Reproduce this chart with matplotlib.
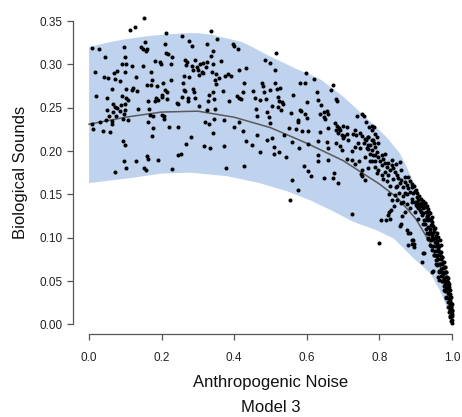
import numpy as np
import matplotlib
matplotlib.use("Agg")
import matplotlib.pyplot as plt

plt.rcParams['font.family'] = ['Liberation Sans', 'DejaVu Sans']

# observed points (anthropogenic noise, biological sounds)
points = [
    (0.152, 0.353), (0.127, 0.343), (0.114, 0.340), (0.212, 0.336), (0.256, 0.333),
    (0.007, 0.319), (0.028, 0.318), (0.097, 0.320), (0.153, 0.326), (0.143, 0.320),
    (0.149, 0.318), (0.159, 0.318), (0.156, 0.316), (0.210, 0.323), (0.213, 0.313),
    (0.218, 0.312), (0.229, 0.309), (0.044, 0.308), (0.099, 0.308), (0.182, 0.304),
    (0.195, 0.303), (0.199, 0.301), (0.090, 0.300), (0.101, 0.301), (0.117, 0.298),
    (0.150, 0.298), (0.227, 0.300), (0.017, 0.291), (0.068, 0.290), (0.077, 0.292),
    (0.099, 0.291), (0.171, 0.291), (0.130, 0.286), (0.042, 0.285), (0.051, 0.284),
    (0.071, 0.283), (0.085, 0.281), (0.173, 0.282), (0.204, 0.278), (0.227, 0.282),
    (0.262, 0.287), (0.160, 0.276), (0.170, 0.276), (0.064, 0.272), (0.101, 0.272),
    (0.122, 0.273), (0.118, 0.270), (0.133, 0.269), (0.188, 0.275), (0.208, 0.271),
    (0.216, 0.268), (0.202, 0.265), (0.262, 0.271), (0.020, 0.264), (0.050, 0.261),
    (0.090, 0.264), (0.103, 0.261), (0.108, 0.259), (0.163, 0.258), (0.184, 0.261),
    (0.189, 0.259), (0.181, 0.258), (0.200, 0.262), (0.215, 0.260), (0.242, 0.256),
    (0.244, 0.254), (0.067, 0.254), (0.088, 0.253), (0.076, 0.250), (0.071, 0.251),
    (0.099, 0.254), (0.134, 0.249), (0.165, 0.249), (0.050, 0.247), (0.066, 0.245),
    (0.086, 0.246), (0.099, 0.247), (0.056, 0.240), (0.074, 0.241), (0.097, 0.243),
    (0.168, 0.242), (0.177, 0.241), (0.202, 0.242), (0.207, 0.241), (0.046, 0.236),
    (0.062, 0.235), (0.093, 0.237), (0.106, 0.236), (0.207, 0.237), (0.009, 0.231),
    (0.030, 0.233), (0.062, 0.231), (0.163, 0.233), (0.220, 0.228), (0.246, 0.228),
    (0.177, 0.227), (0.012, 0.225), (0.039, 0.223), (0.059, 0.222), (0.174, 0.217),
    (0.094, 0.212), (0.100, 0.207), (0.160, 0.194), (0.162, 0.191), (0.189, 0.190),
    (0.245, 0.195), (0.253, 0.197), (0.097, 0.189), (0.129, 0.188), (0.103, 0.180),
    (0.071, 0.176), (0.151, 0.180), (0.157, 0.178), (0.229, 0.179),
    (0.335, 0.338), (0.353, 0.329), (0.276, 0.327), (0.284, 0.321), (0.326, 0.324),
    (0.396, 0.323), (0.400, 0.321), (0.411, 0.318), (0.341, 0.316), (0.336, 0.310),
    (0.515, 0.313), (0.485, 0.305), (0.499, 0.302), (0.265, 0.305), (0.271, 0.303),
    (0.292, 0.305), (0.266, 0.299), (0.324, 0.303), (0.363, 0.304), (0.341, 0.300),
    (0.283, 0.298), (0.298, 0.297), (0.306, 0.300), (0.315, 0.302), (0.287, 0.294),
    (0.301, 0.293), (0.310, 0.291), (0.313, 0.290), (0.303, 0.288), (0.321, 0.297),
    (0.432, 0.296), (0.413, 0.293), (0.338, 0.291), (0.350, 0.289), (0.375, 0.287),
    (0.382, 0.289), (0.391, 0.287), (0.358, 0.284), (0.275, 0.286), (0.347, 0.282),
    (0.350, 0.277), (0.258, 0.279), (0.428, 0.279), (0.477, 0.278), (0.480, 0.275),
    (0.519, 0.272), (0.526, 0.273), (0.499, 0.271), (0.264, 0.269), (0.286, 0.272),
    (0.289, 0.268), (0.342, 0.268), (0.368, 0.269), (0.425, 0.268), (0.451, 0.269),
    (0.483, 0.268), (0.256, 0.262), (0.273, 0.261), (0.293, 0.261), (0.273, 0.258),
    (0.330, 0.265), (0.409, 0.263), (0.414, 0.261), (0.419, 0.260), (0.458, 0.261),
    (0.471, 0.259), (0.488, 0.260), (0.522, 0.262), (0.523, 0.258), (0.387, 0.258),
    (0.328, 0.258), (0.345, 0.260), (0.302, 0.252), (0.504, 0.252), (0.522, 0.251),
    (0.347, 0.249), (0.326, 0.247), (0.461, 0.248), (0.491, 0.245), (0.464, 0.240),
    (0.497, 0.239), (0.344, 0.237), (0.373, 0.236), (0.320, 0.234), (0.330, 0.231),
    (0.414, 0.234), (0.399, 0.228), (0.499, 0.232), (0.342, 0.221), (0.423, 0.223),
    (0.462, 0.219), (0.281, 0.216), (0.432, 0.212), (0.490, 0.213), (0.504, 0.215),
    (0.267, 0.208), (0.317, 0.206), (0.333, 0.203), (0.373, 0.206), (0.448, 0.207),
    (0.511, 0.205), (0.471, 0.199), (0.523, 0.199), (0.377, 0.181), (0.427, 0.183),
    (0.512, 0.293), (0.598, 0.290), (0.582, 0.278), (0.595, 0.278), (0.621, 0.283),
    (0.672, 0.276), (0.667, 0.271), (0.512, 0.278), (0.563, 0.265), (0.627, 0.268),
    (0.632, 0.259), (0.638, 0.253), (0.601, 0.257), (0.680, 0.260), (0.683, 0.258),
    (0.531, 0.257), (0.534, 0.254), (0.528, 0.247), (0.557, 0.244), (0.581, 0.247),
    (0.583, 0.246), (0.595, 0.243), (0.637, 0.243), (0.648, 0.245), (0.656, 0.246),
    (0.659, 0.243), (0.648, 0.239), (0.650, 0.237), (0.600, 0.238), (0.575, 0.236),
    (0.577, 0.233), (0.739, 0.241), (0.753, 0.243), (0.758, 0.240),
    (0.678, 0.232), (0.682, 0.229), (0.689, 0.227), (0.692, 0.224), (0.701, 0.229),
    (0.710, 0.228), (0.680, 0.224), (0.687, 0.221), (0.696, 0.219), (0.703, 0.217),
    (0.710, 0.220), (0.701, 0.215), (0.713, 0.213), (0.733, 0.224), (0.728, 0.220),
    (0.737, 0.218), (0.747, 0.221), (0.753, 0.217), (0.760, 0.214), (0.764, 0.213),
    (0.769, 0.216), (0.779, 0.213), (0.784, 0.209), (0.774, 0.207), (0.758, 0.209),
    (0.740, 0.209), (0.733, 0.205), (0.747, 0.203), (0.768, 0.202), (0.779, 0.201),
    (0.725, 0.200), (0.788, 0.195), (0.760, 0.193), (0.744, 0.189), (0.775, 0.189),
    (0.788, 0.182), (0.769, 0.180), (0.753, 0.178), (0.749, 0.174), (0.733, 0.185),
    (0.724, 0.190), (0.710, 0.191),
    (0.604, 0.223), (0.636, 0.222), (0.659, 0.227), (0.552, 0.227), (0.569, 0.225),
    (0.586, 0.223), (0.538, 0.219), (0.560, 0.211), (0.579, 0.203), (0.602, 0.208),
    (0.632, 0.212), (0.657, 0.211), (0.659, 0.203), (0.680, 0.209), (0.692, 0.206),
    (0.696, 0.201), (0.542, 0.193), (0.632, 0.195), (0.630, 0.189), (0.659, 0.190),
    (0.591, 0.183), (0.604, 0.177), (0.613, 0.171), (0.648, 0.169), (0.673, 0.169),
    (0.676, 0.175), (0.687, 0.163), (0.753, 0.171), (0.760, 0.166), (0.560, 0.166),
    (0.577, 0.155), (0.554, 0.144), (0.510, 0.197),
    (0.781, 0.229), (0.785, 0.228), (0.769, 0.207), (0.767, 0.203), (0.788, 0.205),
    (0.793, 0.199), (0.774, 0.197), (0.783, 0.195), (0.797, 0.193), (0.788, 0.189),
    (0.779, 0.188), (0.802, 0.189), (0.811, 0.191), (0.815, 0.186), (0.806, 0.184),
    (0.820, 0.182), (0.825, 0.186), (0.834, 0.184), (0.829, 0.178), (0.838, 0.180),
    (0.843, 0.176), (0.815, 0.176), (0.797, 0.178), (0.793, 0.175), (0.806, 0.172),
    (0.825, 0.172), (0.848, 0.172), (0.852, 0.169), (0.838, 0.168), (0.861, 0.166),
    (0.857, 0.163), (0.871, 0.164), (0.866, 0.159), (0.875, 0.161), (0.880, 0.157),
    (0.889, 0.158), (0.884, 0.153), (0.893, 0.151), (0.898, 0.154), (0.903, 0.147),
    (0.907, 0.143), (0.898, 0.141), (0.912, 0.139), (0.917, 0.136), (0.921, 0.139),
    (0.926, 0.135), (0.907, 0.134), (0.930, 0.130), (0.921, 0.128), (0.935, 0.126),
    (0.939, 0.122), (0.944, 0.118), (0.926, 0.116), (0.949, 0.114), (0.953, 0.111),
    (0.939, 0.107), (0.958, 0.105), (0.962, 0.101), (0.949, 0.100), (0.967, 0.097),
    (0.958, 0.094), (0.970, 0.091), (0.962, 0.089), (0.799, 0.094), (0.823, 0.126),
    (0.829, 0.122), (0.817, 0.120), (0.832, 0.132), (0.841, 0.136), (0.848, 0.143),
    (0.836, 0.144), (0.826, 0.150), (0.843, 0.149), (0.875, 0.109), (0.884, 0.105),
    (0.880, 0.092), (0.896, 0.089), (0.859, 0.116), (0.762, 0.234), (0.771, 0.228),
    (0.779, 0.224), (0.788, 0.220), (0.769, 0.216), (0.783, 0.213), (0.797, 0.209),
    (0.793, 0.216), (0.815, 0.197), (0.806, 0.195), (0.857, 0.187),
    (0.866, 0.141), (0.875, 0.139), (0.889, 0.141), (0.903, 0.137), (0.884, 0.134),
    (0.898, 0.130), (0.912, 0.132), (0.917, 0.126), (0.907, 0.122), (0.926, 0.120),
    (0.930, 0.124), (0.921, 0.116), (0.935, 0.112), (0.944, 0.103), (0.949, 0.099),
    (0.953, 0.095), (0.958, 0.091), (0.962, 0.087), (0.967, 0.084), (0.972, 0.078),
    (0.976, 0.072), (0.981, 0.066), (0.985, 0.060), (0.987, 0.055), (0.990, 0.049),
    (0.993, 0.043), (0.994, 0.035), (0.996, 0.028), (0.997, 0.020), (0.999, 0.012),
    (1.000, 0.005), (0.857, 0.114), (0.891, 0.097), (0.895, 0.093), (0.889, 0.093),
    (0.921, 0.082), (0.917, 0.072), (0.949, 0.062), (0.944, 0.060), (0.962, 0.055),
    (0.965, 0.051), (0.726, 0.127), (0.804, 0.120), (0.827, 0.130), (0.878, 0.105),
    (0.893, 0.097), (0.923, 0.082),
    (0.930, 0.105), (0.935, 0.098), (0.940, 0.092), (0.946, 0.086), (0.951, 0.080),
    (0.956, 0.074), (0.960, 0.068), (0.965, 0.062), (0.970, 0.056), (0.974, 0.050),
    (0.978, 0.044), (0.982, 0.038), (0.985, 0.032), (0.988, 0.026), (0.991, 0.020),
    (0.993, 0.014), (0.995, 0.009), (0.997, 0.004),
    (0.945, 0.115), (0.950, 0.108), (0.955, 0.102), (0.960, 0.096), (0.965, 0.090),
    (0.970, 0.084), (0.974, 0.078), (0.978, 0.072), (0.982, 0.066), (0.985, 0.060),
    (0.989, 0.054), (0.992, 0.047), (0.995, 0.040), (0.997, 0.032), (0.999, 0.024),
    (1.000, 0.016), (1.000, 0.010), (1.000, 0.002),
    (0.938, 0.104), (0.943, 0.097), (0.948, 0.090), (0.953, 0.085), (0.958, 0.079),
    (0.962, 0.075), (0.966, 0.070), (0.970, 0.064), (0.975, 0.058), (0.978, 0.053),
    (0.982, 0.047), (0.985, 0.042), (0.988, 0.036), (0.991, 0.030), (0.994, 0.024),
    (0.996, 0.017),
    (0.880, 0.170), (0.885, 0.165), (0.890, 0.162), (0.895, 0.160), (0.900, 0.155),
    (0.905, 0.152), (0.910, 0.148), (0.915, 0.145), (0.920, 0.142), (0.925, 0.140),
    (0.930, 0.136), (0.935, 0.133), (0.940, 0.128), (0.945, 0.124),
    (0.905, 0.140), (0.915, 0.140), (0.925, 0.140), (0.915, 0.130), (0.928, 0.130),
    (0.938, 0.130), (0.922, 0.120), (0.933, 0.120), (0.943, 0.120), (0.928, 0.110),
    (0.940, 0.110), (0.950, 0.110), (0.935, 0.100), (0.946, 0.100), (0.957, 0.100),
    (0.943, 0.090), (0.952, 0.090), (0.963, 0.090), (0.950, 0.080), (0.960, 0.080),
    (0.968, 0.080), (0.957, 0.070), (0.966, 0.070), (0.974, 0.070), (0.965, 0.060),
    (0.972, 0.060), (0.980, 0.060), (0.972, 0.050), (0.979, 0.050), (0.986, 0.050),
    (0.979, 0.040), (0.986, 0.040), (0.991, 0.040), (0.985, 0.030), (0.991, 0.030),
    (0.995, 0.030), (0.990, 0.020), (0.995, 0.020), (0.998, 0.020), (0.995, 0.010),
    (0.998, 0.010), (0.910, 0.135), (0.921, 0.134), (0.932, 0.125), (0.941, 0.115),
    (0.947, 0.105), (0.955, 0.095), (0.961, 0.085), (0.969, 0.075), (0.976, 0.065),
    (0.983, 0.055), (0.989, 0.045), (0.993, 0.035), (0.997, 0.025), (0.999, 0.015),
    (0.830, 0.160), (0.845, 0.158), (0.855, 0.152), (0.865, 0.148), (0.870, 0.152),
    (0.860, 0.140), (0.850, 0.160), (0.820, 0.165), (0.810, 0.168), (0.835, 0.190),
    (0.845, 0.185), (0.860, 0.178), (0.870, 0.170), (0.875, 0.150), (0.890, 0.145),
    (0.900, 0.138), (0.872, 0.130), (0.862, 0.125),
]

# prediction band
upper_x = [0.0, 0.05, 0.1, 0.17, 0.26, 0.30, 0.34, 0.38, 0.42, 0.45, 0.49, 0.53, 0.57,
           0.61, 0.64, 0.70, 0.765, 0.82, 0.857, 0.884, 0.907, 0.935, 0.953, 0.967,
           0.98, 0.99, 1.0]
upper_y = [0.320, 0.325, 0.329, 0.333, 0.336, 0.336, 0.334, 0.330, 0.326, 0.320, 0.311,
           0.303, 0.295, 0.288, 0.282, 0.263, 0.238, 0.216, 0.197, 0.174, 0.151, 0.124,
           0.109, 0.093, 0.072, 0.047, 0.0]
lower_x = [0.0, 0.1, 0.2, 0.28, 0.38, 0.47, 0.55, 0.61, 0.67, 0.73, 0.79, 0.84, 0.89,
           0.94, 0.967, 0.99, 1.0]
lower_y = [0.163, 0.168, 0.174, 0.175, 0.171, 0.163, 0.153, 0.143, 0.131, 0.118, 0.109,
           0.099, 0.078, 0.059, 0.039, 0.016, 0.0]

# fitted curve
fit_x = [0.0, 0.1, 0.2, 0.3, 0.4, 0.5, 0.6, 0.7, 0.8, 0.85, 0.9, 0.94, 0.97, 0.99, 1.0]
fit_y = [0.231, 0.239, 0.245, 0.246, 0.239, 0.227, 0.209, 0.189, 0.162, 0.146, 0.122,
         0.094, 0.064, 0.033, 0.005]

x_ticks = [0.0, 0.2, 0.4, 0.6, 0.8, 1.0]
y_ticks = [0.00, 0.05, 0.10, 0.15, 0.20, 0.25, 0.30, 0.35]

pts = np.array(points)

fig = plt.figure(figsize=(4.62, 4.17), dpi=100)
ax = fig.add_axes([0.159, 0.1983, 0.8506, 0.7803])

band_x = np.concatenate([upper_x, lower_x[::-1]])
band_y = np.concatenate([upper_y, lower_y[::-1]])
ax.fill(band_x, band_y, color='#bfd3ef', lw=0, zorder=1)
ax.plot(fit_x, fit_y, color='#5a5a5a', lw=1.1, zorder=2)
ax.plot(pts[:, 0], pts[:, 1], 'o', color='black', ms=2.9, mew=0, zorder=3)

ax.set_xlim(-0.043, 1.04)
ax.set_ylim(-0.0115, 0.364)

for s in ['top', 'right']:
    ax.spines[s].set_visible(False)
ax.spines['left'].set_bounds(0, 0.35)
ax.spines['bottom'].set_bounds(0, 1)
for s in ['left', 'bottom']:
    ax.spines[s].set_color('#555555')
    ax.spines[s].set_linewidth(0.9)

ax.set_xticks(x_ticks)
ax.set_xticklabels(['%.1f' % v for v in x_ticks])
ax.set_yticks(y_ticks)
ax.set_yticklabels(['%.2f' % v for v in y_ticks])
ax.tick_params(axis='both', direction='out', length=4, width=0.9, color='#555555',
               labelsize=8.5, labelcolor='#222222')
ax.tick_params(axis='x', pad=9)
ax.tick_params(axis='y', pad=4)

fig.text(271 / 462, 1 - 383 / 417, 'Anthropogenic Noise', ha='center', va='center',
         fontsize=12, color='#111111')
fig.text(271 / 462, 1 - 408 / 417, 'Model 3', ha='center', va='center',
         fontsize=12, color='#111111')
fig.text(21 / 462, 1 - 172 / 417, 'Biological Sounds', ha='center', va='center',
         rotation=90, fontsize=12, color='#111111')

fig.savefig('out.png', dpi=100)
